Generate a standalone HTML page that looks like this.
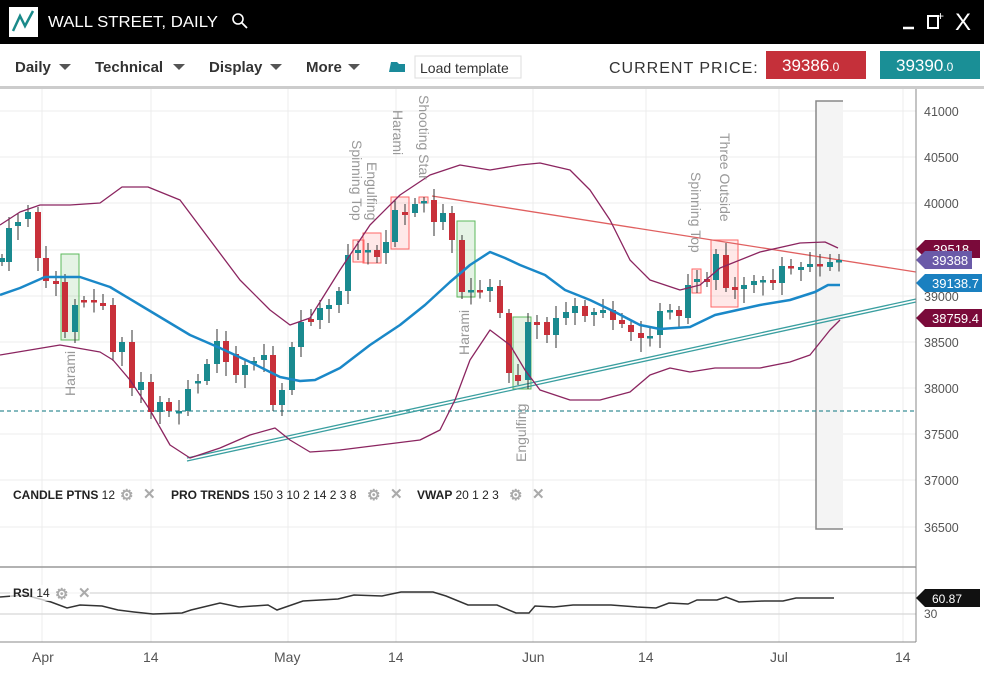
<!DOCTYPE html><html><head><meta charset="utf-8"><style>
body{margin:0;width:984px;height:670px;overflow:hidden;background:#fff;font-family:"Liberation Sans",sans-serif}
</style></head><body>
<svg width="984" height="670" xmlns="http://www.w3.org/2000/svg" font-family="Liberation Sans, sans-serif">
<rect x="0" y="0" width="984" height="44" fill="#000"/>
<rect x="9" y="7" width="29" height="30" fill="#fff"/>
<polyline points="13,31 20,16 25,26 33,11" fill="none" stroke="#1a8a8a" stroke-width="2.5"/>
<text x="48" y="27" fill="#fff" font-size="16" textLength="170" lengthAdjust="spacingAndGlyphs">WALL STREET, DAILY</text>
<circle cx="238" cy="19" r="5" fill="none" stroke="#fff" stroke-width="1.6"/><line x1="242" y1="23" x2="247" y2="28" stroke="#fff" stroke-width="1.8"/>
<line x1="903" y1="28" x2="914" y2="28" stroke="#fff" stroke-width="2.5"/>
<rect x="928" y="16" width="10" height="12" fill="none" stroke="#fff" stroke-width="2"/><text x="937" y="20" fill="#fff" font-size="12">+</text>
<text x="955" y="30" fill="#fff" font-size="24">X</text>
<rect x="0" y="86" width="984" height="3" fill="#ccc"/>
<g font-size="15" font-weight="bold" fill="#333">
<text x="15" y="72">Daily</text><text x="95" y="72">Technical</text><text x="209" y="72">Display</text><text x="306" y="72">More</text></g>
<g fill="#555"><polygon points="59,64 71,64 65,70"/><polygon points="173,64 185,64 179,70"/><polygon points="270,64 282,64 276,70"/><polygon points="348,64 360,64 354,70"/></g>
<path d="M389,72 L391,62 L397,62 L399,64 L405,64 L405,72 Z" fill="#1a8a9a"/>
<rect x="415" y="56" width="106" height="22" fill="#fff" stroke="#ddd"/>
<text x="420" y="73" font-size="14" fill="#333">Load template</text>
<text x="609" y="73" font-size="16" fill="#333" letter-spacing="1">CURRENT PRICE:</text>
<rect x="766" y="51" width="100" height="28" fill="#c5303a"/><text x="782" y="71" fill="#fff" font-size="17">39386<tspan font-size="12">.0</tspan></text>
<rect x="880" y="51" width="100" height="28" fill="#1a8f96"/><text x="896" y="71" fill="#fff" font-size="17">39390<tspan font-size="12">.0</tspan></text>
<g stroke="#ececec"><line x1="0" y1="111" x2="916" y2="111"/><line x1="0" y1="157" x2="916" y2="157"/><line x1="0" y1="203" x2="916" y2="203"/><line x1="0" y1="250" x2="916" y2="250"/><line x1="0" y1="296" x2="916" y2="296"/><line x1="0" y1="342" x2="916" y2="342"/><line x1="0" y1="388" x2="916" y2="388"/><line x1="0" y1="434" x2="916" y2="434"/><line x1="0" y1="480" x2="916" y2="480"/><line x1="0" y1="527" x2="916" y2="527"/>
<line x1="42" y1="89" x2="42" y2="642"/><line x1="151" y1="89" x2="151" y2="642"/><line x1="288" y1="89" x2="288" y2="642"/><line x1="396" y1="89" x2="396" y2="642"/><line x1="533" y1="89" x2="533" y2="642"/><line x1="646" y1="89" x2="646" y2="642"/><line x1="779" y1="89" x2="779" y2="642"/><line x1="903" y1="89" x2="903" y2="642"/></g>
<rect x="816" y="101" width="27" height="428" fill="#f4f4f4"/><polyline points="843,101 816,101 816,529 843,529" fill="none" stroke="#888" stroke-width="1.5"/>
<line x1="0" y1="411" x2="916" y2="411" stroke="#3a8f96" stroke-dasharray="4,3" stroke-width="1.3"/>
<g stroke-width="1">
<rect x="61" y="254" width="18" height="86" fill="#2a9a2a" fill-opacity="0.12" stroke="#5cb85c"/>
<rect x="457" y="221" width="18" height="76" fill="#2a9a2a" fill-opacity="0.12" stroke="#5cb85c"/>
<rect x="513" y="317" width="18" height="72" fill="#2a9a2a" fill-opacity="0.12" stroke="#5cb85c"/>
<rect x="353" y="240" width="11" height="22" fill="#f66" fill-opacity="0.15" stroke="#f66"/>
<rect x="363" y="233" width="18" height="30" fill="#f66" fill-opacity="0.15" stroke="#f66"/>
<rect x="391" y="197" width="18" height="52" fill="#f66" fill-opacity="0.15" stroke="#f66"/>
<rect x="419" y="197" width="9" height="6" fill="#f66" fill-opacity="0.15" stroke="#f66"/>
<rect x="692" y="269" width="9" height="24" fill="#f66" fill-opacity="0.15" stroke="#f66"/>
<rect x="711" y="240" width="27" height="67" fill="#f66" fill-opacity="0.15" stroke="#f66"/></g>
<line x1="432" y1="196" x2="916" y2="272" stroke="#e06060" stroke-width="1.3"/>
<line x1="187" y1="458" x2="916" y2="299" stroke="#3a9fa0" stroke-width="1.3"/>
<line x1="187" y1="461" x2="916" y2="302" stroke="#3a9fa0" stroke-width="1.3"/>
<g id="c"></g>
<g fill="none" stroke-linejoin="round">
<polyline stroke="#8b2560" stroke-width="1.3" points="0,225 20,212 40,205 70,205 100,203 122,187 148,187 180,200 210,240 240,280 270,310 290,325 310,318 340,270 370,225 400,195 430,175 460,165 490,170 520,165 540,163 570,170 590,190 610,220 630,260 650,280 680,290 700,285 720,268 760,252 800,243 825,242 838,248"/>
<polyline stroke="#8b2560" stroke-width="1.3" points="0,355 30,350 60,345 100,352 113,360 130,380 150,410 170,445 190,458 220,448 250,435 275,428 290,440 310,452 340,450 380,445 420,440 440,430 455,400 470,360 490,330 510,345 525,370 540,390 570,400 600,400 630,392 650,375 670,368 690,372 715,368 760,368 790,362 810,355 830,330 840,320"/>
<polyline stroke="#1a88c8" stroke-width="2.5" points="0,295 20,288 45,277 80,277 110,287 140,305 165,320 190,335 220,348 250,362 280,377 300,381 315,380 340,368 370,345 400,325 425,305 450,282 470,265 490,252 505,258 520,265 545,275 565,290 590,300 615,312 640,325 660,329 690,327 715,315 760,305 790,300 815,292 828,285 840,285"/>
</g>
<g font-size="14" fill="#999">
<text transform="translate(75,396) rotate(-90)">Harami</text>
<text transform="translate(469,355) rotate(-90)">Harami</text>
<text transform="translate(526,462) rotate(-90)">Engulfing</text>
<text transform="translate(352,140) rotate(90)">Spinning Top</text>
<text transform="translate(367,162) rotate(90)">Engulfing</text>
<text transform="translate(393,110) rotate(90)">Harami</text>
<text transform="translate(419,95) rotate(90)">Shooting Star</text>
<text transform="translate(691,172) rotate(90)">Spinning Top</text>
<text transform="translate(720,133) rotate(90)">Three Outside</text></g>
<line x1="916" y1="89" x2="916" y2="567" stroke="#888"/>
<g font-size="12.5" fill="#555"><text x="924" y="116">41000</text><text x="924" y="162">40500</text><text x="924" y="208">40000</text><text x="924" y="301">39000</text><text x="924" y="347">38500</text><text x="924" y="393">38000</text><text x="924" y="439">37500</text><text x="924" y="485">37000</text><text x="924" y="532">36500</text></g>
<g font-size="13" fill="#fff">
<path d="M916,249 L925,240 L980,240 L980,258 L925,258Z" fill="#7a0a3a"/><text x="933" y="254">39518</text>
<path d="M916,260 L925,251 L972,251 L972,269 L925,269Z" fill="#6a5aa8"/><text x="932" y="265">39388</text>
<path d="M916,283 L925,274 L982,274 L982,292 L925,292Z" fill="#1a80c0"/><text x="932" y="288">39138.7</text>
<path d="M916,318 L925,309 L982,309 L982,327 L925,327Z" fill="#7a0a3a"/><text x="932" y="323">38759.4</text></g>
<line x1="0" y1="567" x2="916" y2="567" stroke="#999" stroke-width="1.5"/>
<line x1="0" y1="593" x2="916" y2="593" stroke="#ddd" stroke-width="1.5"/>
<line x1="0" y1="614" x2="916" y2="614" stroke="#ddd" stroke-width="1.5"/>
<line x1="916" y1="567" x2="916" y2="642" stroke="#888"/>
<line x1="0" y1="642" x2="916" y2="642" stroke="#888"/>
<polyline fill="none" stroke="#333" stroke-width="1.5" points="0,597 25,595 51,602 67,608 80,605 102,606 118,610 134,612 153,614 182,613 191,610 220,603 239,607 268,605 277,610 303,601 338,599 354,595 382,596 401,592 433,592 446,596 468,605 497,605 516,613 529,613 535,606 554,607 573,605 592,605 611,605 637,607 656,608 669,603 688,604 697,600 717,600 726,597 739,602 764,601 783,601 796,598 834,598"/>
<rect x="10" y="585" width="80" height="16" fill="#fff" fill-opacity="0.7"/>
<g font-size="12" fill="#222" font-weight="bold">
<text x="13" y="499">CANDLE PTNS <tspan font-weight="normal">12</tspan></text>
<text x="171" y="499">PRO TRENDS <tspan font-weight="normal">150 3 10 2 14 2 3 8</tspan></text>
<text x="417" y="499">VWAP <tspan font-weight="normal">20 1 2 3</tspan></text>
<text x="13" y="597">RSI <tspan font-weight="normal">14</tspan></text></g>
<g fill="#aaa" font-size="15" font-weight="bold"><text x="120" y="500">⚙</text><text x="143" y="499">✕</text><text x="367" y="500">⚙</text><text x="390" y="499">✕</text><text x="509" y="500">⚙</text><text x="532" y="499">✕</text><text x="55" y="599">⚙</text><text x="78" y="598">✕</text></g>
<text x="924" y="618" font-size="12" fill="#555">30</text>
<path d="M916,598 L925,589 L980,589 L980,607 L925,607Z" fill="#111"/><text x="932" y="603" font-size="12" fill="#fff">60.87</text>
<g font-size="14" fill="#555"><text x="32" y="662">Apr</text><text x="143" y="662">14</text><text x="274" y="662">May</text><text x="388" y="662">14</text><text x="522" y="662">Jun</text><text x="638" y="662">14</text><text x="770" y="662">Jul</text><text x="895" y="662">14</text></g>
</svg>
<script>
var d=[[2,262,258],[9,262,228],[18,226,222],[28,219,212],[38,212,258],[46,258,281],[56,281,284],[65,282,332],[75,332,305],[84,300,302],[94,300,302],[103,303,306],[113,305,352],[122,352,342],[132,342,388],[141,390,382],[151,382,412],[160,412,402],[169,402,411],[179,413,411],[188,411,389],[198,383,381],[207,381,364],[217,364,341],[226,341,362],[236,354,375],[245,375,365],[254,362,361],[264,360,355],[273,355,405],[282,405,390],[292,390,347],[301,347,322],[311,319,322],[320,320,308],[329,309,305],[339,305,291],[348,291,255],[358,253,250],[368,252,250],[377,250,257],[386,253,242],[395,242,210],[405,212,215],[415,213,204],[424,203,201],[434,200,222],[443,222,213],[452,213,240],[462,240,292],[471,292,290],[480,290,292],[490,291,287],[500,286,313],[509,313,373],[518,375,381],[528,380,322],[537,322,325],[547,322,335],[556,335,318],[566,318,312],[575,313,306],[585,306,316],[594,315,312],[603,313,310],[613,310,320],[622,320,324],[631,325,332],[641,333,338],[650,337,336],[660,335,311],[670,312,310],[679,310,316],[688,318,285],[697,282,279],[707,279,282],[716,280,254],[726,255,288],[735,287,290],[744,289,285],[754,285,281],[763,282,280],[773,280,283],[782,283,266],[791,266,268],[801,270,267],[810,267,264],[820,264,266],[830,267,262],[839,262,260]];
var s='';d.forEach(function(a,i){var up=a[2]<a[1],col=up?'#1a8a8f':'#c8303a',t=Math.min(a[1],a[2]),b=Math.max(a[1],a[2]);if(b-t<2.5){b=t+2.5;}var e1=4+(i*7%9),e2=4+(i*5%11);s+='<line x1="'+a[0]+'" x2="'+a[0]+'" y1="'+(t-e1)+'" y2="'+(b+e2)+'" stroke="#333" stroke-width="1"/><rect x="'+(a[0]-3)+'" y="'+t+'" width="6" height="'+(b-t)+'" fill="'+col+'"/>';});
document.getElementById('c').innerHTML=s;
</script>
</body></html>
